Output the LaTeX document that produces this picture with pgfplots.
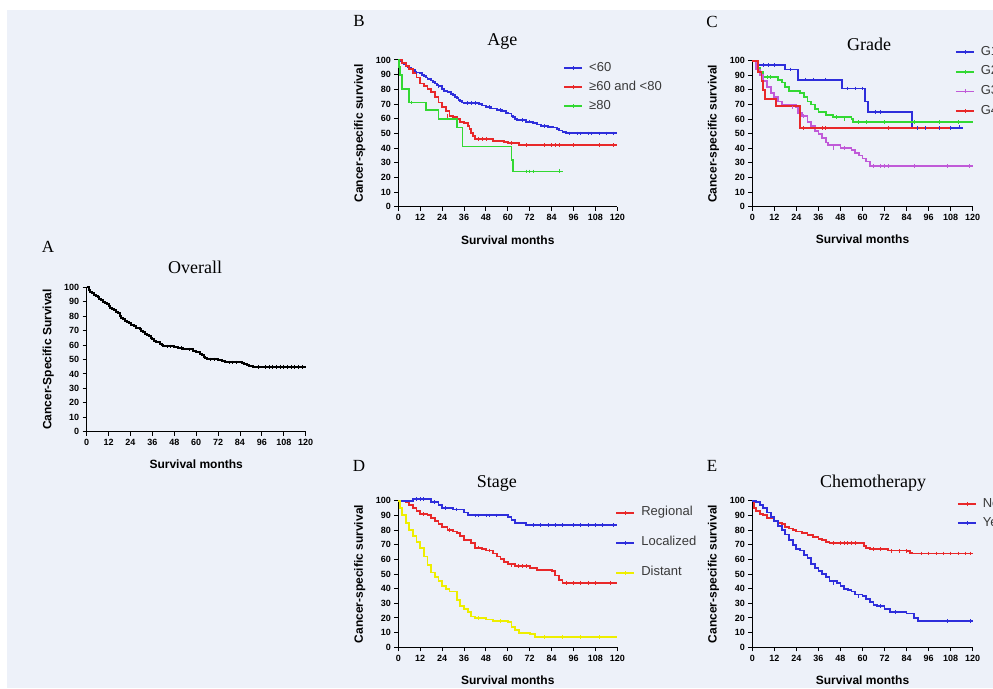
\documentclass[border=0pt]{standalone}
\usepackage{pgfplots}
\pgfplotsset{compat=1.18}
\usepackage{fontspec}
\setmainfont{Liberation Serif}
\newfontfamily\arial{Liberation Sans}
\definecolor{bgc}{HTML}{EDF1F9}
\definecolor{kmblue}{HTML}{2E2EDB}
\definecolor{kmred}{HTML}{E8282A}
\definecolor{kmgreen}{HTML}{33D833}
\definecolor{kmpurple}{HTML}{C05AD8}
\definecolor{kmyellow}{HTML}{EEEE00}
\definecolor{legtext}{HTML}{3A3A3A}
\pgfplotsset{
 km/.style={
  scale only axis, width=219pt, height=146pt,
  xmin=0, xmax=120, ymin=0, ymax=100,
  axis lines*=left, axis line style={line width=1.1pt, -},
  xtick={0,12,...,120}, ytick={0,10,...,100},
  tick align=outside, major tick length=4pt, tick style={line width=1pt, black},
  ticklabel style={font=\arial\bfseries\fontsize{9}{10}\selectfont},
  /pgf/number format/assume math mode=true,
  xlabel={Survival months}, ylabel={Cancer-specific survival},
  label style={font=\arial\bfseries\fontsize{12}{13}\selectfont},
  xlabel style={at={(axis description cs:0.5,-0.226)}, anchor=center},
  ylabel style={at={(axis description cs:-0.176,0.5)}, anchor=center},
  title style={font=\fontsize{18}{20}\selectfont, anchor=center},
  legend style={draw=none, fill=none, inner sep=0pt, outer sep=0pt,
    font=\arial\fontsize{13}{14}\selectfont, text=legtext,
    cells={anchor=west}, row sep=7pt, column sep=6pt, anchor=north west,
    nodes={inner sep=0pt, text height=9pt, text depth=3pt}},
  legend image code/.code={\draw[#1] (0pt,0pt)--(18pt,0pt); \draw[#1, line width=0.8pt] (9pt,-2pt)--(9pt,2pt);},
  clip=false,
 },
 kml/.style={const plot, line width=1.8pt},
 cens/.style={only marks, mark=|, mark size=1.8pt, mark options={line width=0.8pt}, forget plot},
}
\begin{document}
\begin{tikzpicture}
\useasboundingbox (0pt,0pt) rectangle (993pt,688pt);
\clip (0pt,0pt) rectangle (993pt,688pt);
\fill[white] (0pt,0pt) rectangle (993pt,688pt);
\fill[bgc] (7pt,0pt) rectangle (993pt,678pt);
\node[font=\fontsize{17}{18}\selectfont] at (48pt,441pt) {A};
\node[font=\fontsize{17}{18}\selectfont] at (359pt,667pt) {B};
\node[font=\fontsize{17}{18}\selectfont] at (712pt,666pt) {C};
\node[font=\fontsize{17}{18}\selectfont] at (359pt,222pt) {D};
\node[font=\fontsize{17}{18}\selectfont] at (712pt,222pt) {E};

% ---------------- A Overall
\begin{axis}[km, at={(86.7pt,256.3pt)}, anchor=south west, height=144.4pt,
  ylabel={Cancer-Specific Survival}, title={Overall},
  title style={at={(axis description cs:0.495,1)}, yshift=14pt}]
\addplot[black, kml, line width=2pt] coordinates {
(0,100)(1,98)(2,97)(3,96)(4,95)(5,94)(6,93)(7,92)(8,91)(9,90)(10,89)(11,88.5)(12,87)(13,86)(14,85)(15,84)(16,83)(17,82)(18,80)(19,79)(20,78)(21,77)(22,76)(23,75)(24,74)(26,73)(27,72)(29,71)(30,70)(31,69)(32,68)(33,67)(34,66)(35,65)(36,64)(37,63)(38,62)(40,61)(41,60)(42,59)(48,58.5)(50,58)(53,57.5)(55,57)(58,56)(60,55.5)(61,55)(62,54)(63,53)(64,52)(65,51)(66,50)(72,49.5)(74,49)(76,48)(84,48)(85,47.5)(86,47)(88,46)(89,45.5)(91,45)(120,45)};
\addplot[black, cens] coordinates {(44,59)(46,59)(52,58)(56,57)(68,50)(70,50)(78,48)(80,48)(82,48)(94,45)(98,45)(100,45)(102,45)(104,45)(106,45)(108,45)(110,45)(112,45)(114,45)(116,45)(118,45)};
\end{axis}

% ---------------- B Age
\begin{axis}[km, at={(398.3pt,481.3pt)}, anchor=south west, height=146.7pt, title={Age},
  title style={at={(axis description cs:0.475,1)}, yshift=12.5pt},
  legend style={at={(axis description cs:0.754,0.985)}}]
\addplot[kmblue, kml] coordinates {
(0,100)(1,99)(2,98)(3,97)(4,96)(5,95)(6,94.5)(7,94)(8,93)(9,92)(10,91.5)(12,91)(13,90)(14,89)(15,88)(16,87)(18,86)(19,85)(20,84)(21,83)(22,82)(24,80)(25,79)(27,78)(29,77)(30,76)(31,75)(32,74)(33,73)(34,72)(35,71)(36,70.5)(44,70)(46,69)(48,68)(51,67)(54,66)(57,65)(59,64)(60,63.5)(62,62)(63,61)(64,60)(65,59)(70,58)(74,57)(76,56)(78,55)(82,54.5)(85,54)(87,53)(88,52)(90,51)(92,50)(120,50)};
\addlegendentry{<60}
\addplot[kmred, kml] coordinates {
(0,100)(2,98)(4,96)(6,94)(8,91)(10,88)(12,84)(14,82)(16,80)(18,78)(20,75)(22,71)(24,68)(26,65)(28,62)(30,61)(32,60)(34,58)(36,57)(38,55)(39,53)(40,50)(41,48)(42,46)(52,45)(58,44)(60,43.5)(66,42)(120,42)};
\addlegendentry{≥60 and <80}
\addplot[kmgreen, kml] coordinates {
(0,100)(0.5,95)(1,90)(2,80)(6,71)(14,71)(15,66)(22,60)(31,60)(32,54)(35,54)(35.2,41)(61,41)(62,32)(63,24)(90,24.5)};
\addlegendentry{≥80}
\addplot[kmblue, cens] coordinates {(10,91.5)(22,82)(38,70.5)(40,70.5)(42,70.5)(50,68)(56,66)(68,59)(72,58)(80,55)(94,50)(98,50)(100,50)(104,50)(106,50)(110,50)(114,50)(118,50)};
\addplot[kmred, cens] coordinates {(27,62)(44,46)(46,46)(48,46)(62,43.5)(70,42)(80,42)(84,42)(86,42)(88,42)(96,42)(110,42)(118,42)};
\addplot[kmgreen, cens] coordinates {(7,71)(70,24)(72,24)(74,24)(88,24.5)};
\end{axis}

% ---------------- C Grade
\begin{axis}[km, at={(752.3pt,481.3pt)}, anchor=south west, height=146pt, width=220.4pt, title={Grade},
  title style={at={(axis description cs:0.53,1)}, yshift=10.5pt},
  legend style={at={(axis description cs:0.92,1.1)}, row sep=7.7pt}]
\addplot[kmblue, kml] coordinates {
(0,100)(2,97)(18,94)(25,87)(49,81)(61.5,72)(63,65)(87,54)(114,54.5)};
\addlegendentry{G1}
\addplot[kmgreen, kml] coordinates {
(0,100)(2,95)(4,92)(6,89)(14,87)(16,85)(18,82)(20,79)(26,78)(28,75)(30,72)(32,70)(34,67)(36,65)(40,63)(44,61.5)(54,60)(55,58)(120,58)};
\addlegendentry{G2}
\addplot[kmpurple, kml] coordinates {
(0,100)(2,94)(4,90)(6,86)(8,82)(10,78)(12,75)(14,72)(16,70)(24,68)(25,64)(27,62)(30,58)(32,55)(34,52)(36,50)(38,47)(40,44)(41,42)(48,40)(54,39)(56,37)(58,35)(60,33)(62,31)(64,28)(120,28)};
\addlegendentry{G3}
\addplot[kmred, kml] coordinates {
(0,100)(3,92)(5,86)(6,80)(7,74)(12,74)(13,69)(25,69)(26,54)(108,54)};
\addlegendentry{G4}
\addplot[kmblue, cens] coordinates {(6,97)(9,97)(12,97)(21,94)(29,87)(33,87)(40,87)(52,81)(56,81)(60,81)(67,65)(70,65)(90,54)(94,54)(102,54)(108,54)(113,54.5)};
\addplot[kmgreen, cens] coordinates {(8,89)(10,89)(46,61.5)(50,60)(58,58)(62,58)(72,58)(88,58)(102,58)(112,58)};
\addplot[kmpurple, cens] coordinates {(22,68)(28,62)(44,40)(50,40)(66,28)(70,28)(72,28)(74,28)(88,28)(106,28)(118,28)};
\addplot[kmred, cens] coordinates {(28,54)(38,54)(40,54)(74,54)};
\end{axis}

% ---------------- D Stage
\begin{axis}[km, at={(398.3pt,40.7pt)}, anchor=south west, height=146.6pt, title={Stage},
  title style={at={(axis description cs:0.45,1)}, yshift=11.7pt},
  legend style={at={(axis description cs:0.992,0.958)}, row sep=18pt}]
\addplot[kmred, kml] coordinates {
(0,100)(4,99)(6,97)(8,95)(10,93)(12,91)(16,90)(18,88)(20,86)(22,84)(24,82)(27,80)(30,79)(32,78)(34,76)(36,73)(40,71)(42,68)(46,67)(48,66)(52,64)(54,62)(56,60)(58,58)(60,57)(64,55.5)(72,54)(76,53)(84,52)(86,49)(88,46)(90,44)(120,44)};
\addlegendentry{Regional}
\addplot[kmblue, kml] coordinates {
(0,100)(6,100)(8,101)(16,101)(18,99)(22,97)(24,95)(30,94)(36,92)(38,90)(56,90)(60,89)(62,87)(64,85)(70,83.5)(120,83.5)};
\addlegendentry{Localized}
\addplot[kmyellow, kml] coordinates {
(0,100)(1,95)(2,90)(4,85)(6,80)(8,76)(10,72)(12,68)(14,62)(16,56)(18,51)(20,48)(22,45)(24,42)(26,40)(28,38)(30,38)(32,32)(34,28)(36,26)(38,24)(40,21)(42,20)(48,19)(52,18)(60,17)(62,14)(64,12)(66,10)(72,9)(75,7)(120,7)};
\addlegendentry{Distant}
\addplot[kmred, cens] coordinates {(14,91)(28,80)(44,68)(50,66)(62,56)(66,55.5)(68,55.5)(70,55.5)(92,44)(96,44)(100,44)(104,44)(108,44)(116,44)};
\addplot[kmblue, cens] coordinates {(10,101)(12,101)(14,101)(20,99)(26,95)(32,94)(42,90)(44,90)(48,90)(50,90)(54,90)(74,83.5)(78,83.5)(82,83.5)(86,83.5)(90,83.5)(96,83.5)(100,83.5)(104,83.5)(108,83.5)(112,83.5)(118,83.5)};
\addplot[kmyellow, cens] coordinates {(44,20)(56,18)(80,7)(90,7)(100,7)(110,7)};
\end{axis}

% ---------------- E Chemotherapy
\begin{axis}[km, at={(752.3pt,40.7pt)}, anchor=south west, height=146.6pt, width=220.4pt, title={Chemotherapy},
  title style={at={(axis description cs:0.548,1)}, yshift=11.7pt},
  legend style={at={(axis description cs:0.929,1.018)}}]
\addplot[kmred, kml] coordinates {
(0,100)(1,95)(2,93)(4,91)(6,90)(8,88)(12,86)(14,85)(16,84)(18,82)(20,81)(22,80)(24,79)(27,78)(30,76.5)(33,75)(36,74)(38,73)(40,72)(42,71)(59,71)(61,69)(62,68)(64,67)(72,67)(74,66)(84,65.5)(86,64.5)(87,64)(120,64)};
\addlegendentry{No}
\addplot[kmblue, kml] coordinates {
(0,100)(2,99)(4,97)(6,95)(8,92)(10,89)(12,86)(14,83)(16,80)(18,77)(20,73)(22,70)(24,67)(26,66)(28,63)(30,61)(32,57)(34,54)(36,52)(38,50)(40,48)(42,45)(46,44)(48,42)(50,40)(52,39)(54,38)(56,36)(60,35)(62,33)(64,31)(66,29)(68,28)(72,26)(75,24)(84,23)(88,20)(90,18)(120,18)};
\addlegendentry{Yes}
\addplot[kmred, cens] coordinates {(44,71)(48,71)(50,71)(52,71)(54,71)(56,71)(66,67)(70,67)(76,65.5)(80,65.5)(84,65.5)(92,64)(96,64)(100,64)(104,64)(108,64)(112,64)(116,64)(119,64)};
\addplot[kmblue, cens] coordinates {(44,44)(58,35)(70,28)(78,24)(106,18)(119,18)};
\end{axis}
\end{tikzpicture}
\end{document}
